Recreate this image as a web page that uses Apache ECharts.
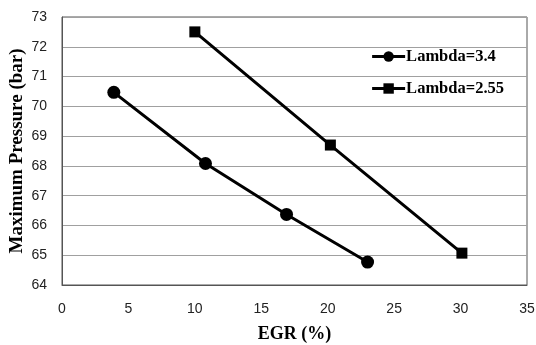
<!DOCTYPE html>
<html><head><meta charset="utf-8">
<script src="https://cdn.jsdelivr.net/npm/echarts@6/dist/echarts.min.js"></script>
<style>html,body{margin:0;padding:0;background:#fff}#c{width:536px;height:345px}</style>
</head><body><div id="c"></div>
<script>
const seriesNames = ['Lambda=3.4', 'Lambda=2.55'];
const egrA = [3.9, 10.8, 16.9, 23.0];
const pA = [70.47, 68.08, 66.37, 64.77];
const egrB = [10.0, 20.2, 30.1];
const pB = [72.5, 68.7, 65.07];
const xTicks = [0, 5, 10, 15, 20, 25, 30, 35];
const yTicks = [64, 65, 66, 67, 68, 69, 70, 71, 72, 73];

const chart = echarts.init(document.getElementById('c'));
chart.setOption({
  animation: false,
  grid: {left: 62, right: 9, top: 17, bottom: 60, show: true, borderColor: '#555', borderWidth: 1,
         containLabel: false, outerBoundsMode: 'none'},
  legend: {
    orient: 'vertical', right: 27, top: 43, itemGap: 15,
    itemWidth: 33, itemHeight: 13,
    lineStyle: {width: 3},
    textStyle: {fontFamily: 'Liberation Serif', fontWeight: 'bold', fontSize: 16.5, color: '#000', padding: [0,0,0,-4]},
    data: seriesNames
  },
  xAxis: {
    type: 'value', min: xTicks[0], max: xTicks[xTicks.length-1], interval: 5,
    name: 'EGR (%)', nameLocation: 'middle', nameGap: 40, nameMoveOverlap: false,
    nameTextStyle: {fontFamily: 'Liberation Serif', fontWeight: 'bold', fontSize: 18, color: '#000'},
    axisLine: {show: true, lineStyle: {color: '#555'}},
    axisTick: {show: false},
    splitLine: {show: false},
    axisLabel: {margin: 17, fontFamily: 'Liberation Sans', fontSize: 14, color: '#222'}
  },
  yAxis: {
    type: 'value', min: yTicks[0], max: yTicks[yTicks.length-1], interval: 1,
    name: 'Maximum Pressure (bar)', nameLocation: 'middle', nameGap: 35, nameMoveOverlap: false,
    nameTextStyle: {fontFamily: 'Liberation Serif', fontWeight: 'bold', fontSize: 19, color: '#000'},
    axisLine: {show: true, lineStyle: {color: '#555'}},
    axisTick: {show: false},
    splitLine: {show: true, lineStyle: {color: '#a0a0a0', width: 1}},
    axisLabel: {margin: 15, fontFamily: 'Liberation Sans', fontSize: 14, color: '#222'}
  },
  series: [
    {name: seriesNames[0], type: 'line', data: egrA.map((x,i)=>[x,pA[i]]),
     symbol: 'circle', symbolSize: 13, itemStyle: {color: '#000'}, lineStyle: {color: '#000', width: 3}},
    {name: seriesNames[1], type: 'line', data: egrB.map((x,i)=>[x,pB[i]]),
     symbol: 'rect', symbolSize: 11, itemStyle: {color: '#000'}, lineStyle: {color: '#000', width: 3}}
  ]
});
</script></body></html>
